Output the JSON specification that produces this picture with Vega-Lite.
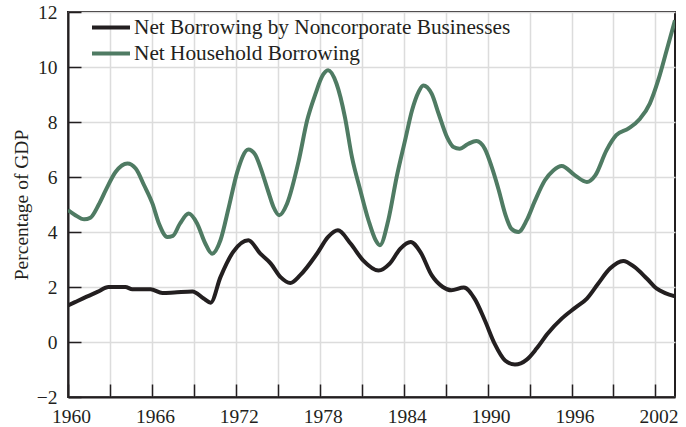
{
  "$schema": "https://vega.github.io/schema/vega-lite/v6.json",
  "width": 607,
  "height": 385,
  "autosize": {"type": "none"},
  "padding": {"left": 68, "top": 12, "right": 11, "bottom": 30},
  "background": "white",
  "config": {
    "view": {"stroke": "#231f20", "strokeWidth": 2},
    "font": "Liberation Serif",
    "axis": {"labelFont": "Liberation Serif", "titleFont": "Liberation Serif", "labelColor": "#231f20", "titleColor": "#231f20"}
  },
  "datasets": {
    "d": [
      {"year": 1960.0, "value": 4.8, "series": "Net Household Borrowing"},
      {"year": 1960.5, "value": 4.62, "series": "Net Household Borrowing"},
      {"year": 1961.16, "value": 4.46, "series": "Net Household Borrowing"},
      {"year": 1961.6, "value": 4.52, "series": "Net Household Borrowing"},
      {"year": 1962.2, "value": 5.0, "series": "Net Household Borrowing"},
      {"year": 1962.7, "value": 5.52, "series": "Net Household Borrowing"},
      {"year": 1963.4, "value": 6.18, "series": "Net Household Borrowing"},
      {"year": 1964.25, "value": 6.49, "series": "Net Household Borrowing"},
      {"year": 1964.84, "value": 6.31, "series": "Net Household Borrowing"},
      {"year": 1965.44, "value": 5.7, "series": "Net Household Borrowing"},
      {"year": 1966.04, "value": 5.03, "series": "Net Household Borrowing"},
      {"year": 1966.5, "value": 4.31, "series": "Net Household Borrowing"},
      {"year": 1967.1, "value": 3.82, "series": "Net Household Borrowing"},
      {"year": 1967.5, "value": 3.86, "series": "Net Household Borrowing"},
      {"year": 1968.0, "value": 4.3, "series": "Net Household Borrowing"},
      {"year": 1968.63, "value": 4.67, "series": "Net Household Borrowing"},
      {"year": 1969.23, "value": 4.31, "series": "Net Household Borrowing"},
      {"year": 1969.8, "value": 3.6, "series": "Net Household Borrowing"},
      {"year": 1970.3, "value": 3.21, "series": "Net Household Borrowing"},
      {"year": 1970.9, "value": 3.7, "series": "Net Household Borrowing"},
      {"year": 1971.5, "value": 4.91, "series": "Net Household Borrowing"},
      {"year": 1972.1, "value": 6.18, "series": "Net Household Borrowing"},
      {"year": 1972.9, "value": 7.0, "series": "Net Household Borrowing"},
      {"year": 1973.4, "value": 6.8, "series": "Net Household Borrowing"},
      {"year": 1973.75, "value": 6.36, "series": "Net Household Borrowing"},
      {"year": 1974.3, "value": 5.5, "series": "Net Household Borrowing"},
      {"year": 1974.7, "value": 4.9, "series": "Net Household Borrowing"},
      {"year": 1975.1, "value": 4.61, "series": "Net Household Borrowing"},
      {"year": 1975.66, "value": 5.03, "series": "Net Household Borrowing"},
      {"year": 1976.5, "value": 6.6, "series": "Net Household Borrowing"},
      {"year": 1977.1, "value": 8.06, "series": "Net Household Borrowing"},
      {"year": 1977.7, "value": 9.03, "series": "Net Household Borrowing"},
      {"year": 1978.15, "value": 9.64, "series": "Net Household Borrowing"},
      {"year": 1978.6, "value": 9.88, "series": "Net Household Borrowing"},
      {"year": 1979.2, "value": 9.39, "series": "Net Household Borrowing"},
      {"year": 1979.8, "value": 8.18, "series": "Net Household Borrowing"},
      {"year": 1980.3, "value": 6.73, "series": "Net Household Borrowing"},
      {"year": 1980.9, "value": 5.52, "series": "Net Household Borrowing"},
      {"year": 1981.5, "value": 4.4, "series": "Net Household Borrowing"},
      {"year": 1982.0, "value": 3.7, "series": "Net Household Borrowing"},
      {"year": 1982.3, "value": 3.52, "series": "Net Household Borrowing"},
      {"year": 1982.9, "value": 4.43, "series": "Net Household Borrowing"},
      {"year": 1983.5, "value": 6.0, "series": "Net Household Borrowing"},
      {"year": 1984.1, "value": 7.33, "series": "Net Household Borrowing"},
      {"year": 1984.6, "value": 8.43, "series": "Net Household Borrowing"},
      {"year": 1985.06, "value": 9.09, "series": "Net Household Borrowing"},
      {"year": 1985.4, "value": 9.33, "series": "Net Household Borrowing"},
      {"year": 1986.0, "value": 9.03, "series": "Net Household Borrowing"},
      {"year": 1986.5, "value": 8.3, "series": "Net Household Borrowing"},
      {"year": 1987.1, "value": 7.45, "series": "Net Household Borrowing"},
      {"year": 1987.56, "value": 7.09, "series": "Net Household Borrowing"},
      {"year": 1988.0, "value": 7.03, "series": "Net Household Borrowing"},
      {"year": 1988.6, "value": 7.2, "series": "Net Household Borrowing"},
      {"year": 1989.2, "value": 7.31, "series": "Net Household Borrowing"},
      {"year": 1989.8, "value": 7.03, "series": "Net Household Borrowing"},
      {"year": 1990.3, "value": 6.36, "series": "Net Household Borrowing"},
      {"year": 1990.8, "value": 5.52, "series": "Net Household Borrowing"},
      {"year": 1991.25, "value": 4.67, "series": "Net Household Borrowing"},
      {"year": 1991.7, "value": 4.12, "series": "Net Household Borrowing"},
      {"year": 1992.2, "value": 4.0, "series": "Net Household Borrowing"},
      {"year": 1992.8, "value": 4.43, "series": "Net Household Borrowing"},
      {"year": 1993.4, "value": 5.15, "series": "Net Household Borrowing"},
      {"year": 1994.1, "value": 5.88, "series": "Net Household Borrowing"},
      {"year": 1994.7, "value": 6.24, "series": "Net Household Borrowing"},
      {"year": 1995.3, "value": 6.4, "series": "Net Household Borrowing"},
      {"year": 1996.25, "value": 6.06, "series": "Net Household Borrowing"},
      {"year": 1997.1, "value": 5.82, "series": "Net Household Borrowing"},
      {"year": 1997.7, "value": 6.06, "series": "Net Household Borrowing"},
      {"year": 1998.5, "value": 6.97, "series": "Net Household Borrowing"},
      {"year": 1999.2, "value": 7.52, "series": "Net Household Borrowing"},
      {"year": 2000.06, "value": 7.76, "series": "Net Household Borrowing"},
      {"year": 2000.9, "value": 8.12, "series": "Net Household Borrowing"},
      {"year": 2001.6, "value": 8.67, "series": "Net Household Borrowing"},
      {"year": 2002.2, "value": 9.52, "series": "Net Household Borrowing"},
      {"year": 2002.8, "value": 10.6, "series": "Net Household Borrowing"},
      {"year": 2003.4, "value": 11.7, "series": "Net Household Borrowing"},
      {"year": 1960.0, "value": 1.33, "series": "Net Borrowing by Noncorporate Businesses"},
      {"year": 1960.5, "value": 1.45, "series": "Net Borrowing by Noncorporate Businesses"},
      {"year": 1961.3, "value": 1.64, "series": "Net Borrowing by Noncorporate Businesses"},
      {"year": 1962.1, "value": 1.82, "series": "Net Borrowing by Noncorporate Businesses"},
      {"year": 1962.9, "value": 2.0, "series": "Net Borrowing by Noncorporate Businesses"},
      {"year": 1964.1, "value": 2.0, "series": "Net Borrowing by Noncorporate Businesses"},
      {"year": 1964.6, "value": 1.92, "series": "Net Borrowing by Noncorporate Businesses"},
      {"year": 1965.9, "value": 1.92, "series": "Net Borrowing by Noncorporate Businesses"},
      {"year": 1966.75, "value": 1.78, "series": "Net Borrowing by Noncorporate Businesses"},
      {"year": 1967.6, "value": 1.8, "series": "Net Borrowing by Noncorporate Businesses"},
      {"year": 1968.9, "value": 1.84, "series": "Net Borrowing by Noncorporate Businesses"},
      {"year": 1969.7, "value": 1.58, "series": "Net Borrowing by Noncorporate Businesses"},
      {"year": 1970.2, "value": 1.43, "series": "Net Borrowing by Noncorporate Businesses"},
      {"year": 1970.9, "value": 2.36, "series": "Net Borrowing by Noncorporate Businesses"},
      {"year": 1971.8, "value": 3.27, "series": "Net Borrowing by Noncorporate Businesses"},
      {"year": 1972.9, "value": 3.7, "series": "Net Borrowing by Noncorporate Businesses"},
      {"year": 1973.75, "value": 3.21, "series": "Net Borrowing by Noncorporate Businesses"},
      {"year": 1974.5, "value": 2.85, "series": "Net Borrowing by Noncorporate Businesses"},
      {"year": 1975.2, "value": 2.36, "series": "Net Borrowing by Noncorporate Businesses"},
      {"year": 1975.9, "value": 2.15, "series": "Net Borrowing by Noncorporate Businesses"},
      {"year": 1976.6, "value": 2.43, "series": "Net Borrowing by Noncorporate Businesses"},
      {"year": 1977.8, "value": 3.21, "series": "Net Borrowing by Noncorporate Businesses"},
      {"year": 1978.6, "value": 3.82, "series": "Net Borrowing by Noncorporate Businesses"},
      {"year": 1979.3, "value": 4.06, "series": "Net Borrowing by Noncorporate Businesses"},
      {"year": 1980.2, "value": 3.58, "series": "Net Borrowing by Noncorporate Businesses"},
      {"year": 1981.1, "value": 2.97, "series": "Net Borrowing by Noncorporate Businesses"},
      {"year": 1982.2, "value": 2.6, "series": "Net Borrowing by Noncorporate Businesses"},
      {"year": 1983.0, "value": 2.85, "series": "Net Borrowing by Noncorporate Businesses"},
      {"year": 1983.75, "value": 3.39, "series": "Net Borrowing by Noncorporate Businesses"},
      {"year": 1984.5, "value": 3.64, "series": "Net Borrowing by Noncorporate Businesses"},
      {"year": 1985.2, "value": 3.27, "series": "Net Borrowing by Noncorporate Businesses"},
      {"year": 1986.0, "value": 2.43, "series": "Net Borrowing by Noncorporate Businesses"},
      {"year": 1986.8, "value": 2.0, "series": "Net Borrowing by Noncorporate Businesses"},
      {"year": 1987.4, "value": 1.88, "series": "Net Borrowing by Noncorporate Businesses"},
      {"year": 1988.3, "value": 1.98, "series": "Net Borrowing by Noncorporate Businesses"},
      {"year": 1989.1, "value": 1.55, "series": "Net Borrowing by Noncorporate Businesses"},
      {"year": 1989.8, "value": 0.79, "series": "Net Borrowing by Noncorporate Businesses"},
      {"year": 1990.5, "value": -0.06, "series": "Net Borrowing by Noncorporate Businesses"},
      {"year": 1991.25, "value": -0.67, "series": "Net Borrowing by Noncorporate Businesses"},
      {"year": 1991.96, "value": -0.82, "series": "Net Borrowing by Noncorporate Businesses"},
      {"year": 1992.8, "value": -0.64, "series": "Net Borrowing by Noncorporate Businesses"},
      {"year": 1993.5, "value": -0.24, "series": "Net Borrowing by Noncorporate Businesses"},
      {"year": 1994.3, "value": 0.31, "series": "Net Borrowing by Noncorporate Businesses"},
      {"year": 1995.3, "value": 0.85, "series": "Net Borrowing by Noncorporate Businesses"},
      {"year": 1996.25, "value": 1.24, "series": "Net Borrowing by Noncorporate Businesses"},
      {"year": 1997.1, "value": 1.58, "series": "Net Borrowing by Noncorporate Businesses"},
      {"year": 1997.9, "value": 2.12, "series": "Net Borrowing by Noncorporate Businesses"},
      {"year": 1998.75, "value": 2.67, "series": "Net Borrowing by Noncorporate Businesses"},
      {"year": 1999.7, "value": 2.95, "series": "Net Borrowing by Noncorporate Businesses"},
      {"year": 2000.5, "value": 2.73, "series": "Net Borrowing by Noncorporate Businesses"},
      {"year": 2001.4, "value": 2.3, "series": "Net Borrowing by Noncorporate Businesses"},
      {"year": 2002.1, "value": 1.94, "series": "Net Borrowing by Noncorporate Businesses"},
      {"year": 2002.7, "value": 1.78, "series": "Net Borrowing by Noncorporate Businesses"},
      {"year": 2003.4, "value": 1.66, "series": "Net Borrowing by Noncorporate Businesses"}
    ]
  },
  "data": {"name": "d"},
  "mark": {"type": "line", "interpolate": "monotone", "strokeWidth": 4, "strokeJoin": "round", "clip": true},
  "encoding": {
    "x": {
      "field": "year", "type": "quantitative",
      "scale": {"domain": [1960, 2003.4], "nice": false, "zero": false},
      "axis": {
        "title": null,
        "values": [1960, 1963, 1966, 1969, 1972, 1975, 1978, 1981, 1984, 1987, 1990, 1993, 1996, 1999, 2002],
        "format": "d",
        "labelExpr": "(datum.value - 1960) % 6 == 0 ? datum.label : ''",
        "labelFontSize": 19.5,
        "labelPadding": 23,
        "labelOffset": 3,
        "tickSize": -13,
        "tickColor": "#231f20",
        "tickWidth": 1.5,
        "domainColor": "#231f20",
        "domainWidth": 2,
        "grid": true,
        "gridColor": "#dcdcdc",
        "gridWidth": 1.5,
        "labelFlush": false,
        "labelOverlap": false
      }
    },
    "y": {
      "field": "value", "type": "quantitative",
      "scale": {"domain": [-2, 12], "nice": false},
      "axis": {
        "title": "Percentage of GDP",
        "titleFontSize": 19.5,
        "titleFontWeight": "normal",
        "titlePadding": 5,
        "values": [-2, 0, 2, 4, 6, 8, 10, 12],
        "labelFontSize": 19.5,
        "labelPadding": 24,
        "tickSize": -13,
        "tickColor": "#231f20",
        "tickWidth": 1.5,
        "domainColor": "#231f20",
        "domainWidth": 2,
        "grid": true,
        "gridColor": "#dcdcdc",
        "gridWidth": 1.5,
        "labelFlush": false,
        "labelOverlap": false
      }
    },
    "color": {
      "field": "series", "type": "nominal",
      "scale": {
        "domain": ["Net Borrowing by Noncorporate Businesses", "Net Household Borrowing"],
        "range": ["#231f20", "#4f7b63"]
      },
      "legend": {
        "title": null,
        "orient": "none",
        "legendX": 31.5,
        "legendY": 4,
        "symbolType": "M-2,0L2,0",
        "symbolSize": 361,
        "symbolStrokeWidth": 4,
        "labelFontSize": 21.3,
        "labelColor": "#231f20",
        "labelOffset": 11.5,
        "rowPadding": 4,
        "labelLimit": 500
      }
    }
  }
}
